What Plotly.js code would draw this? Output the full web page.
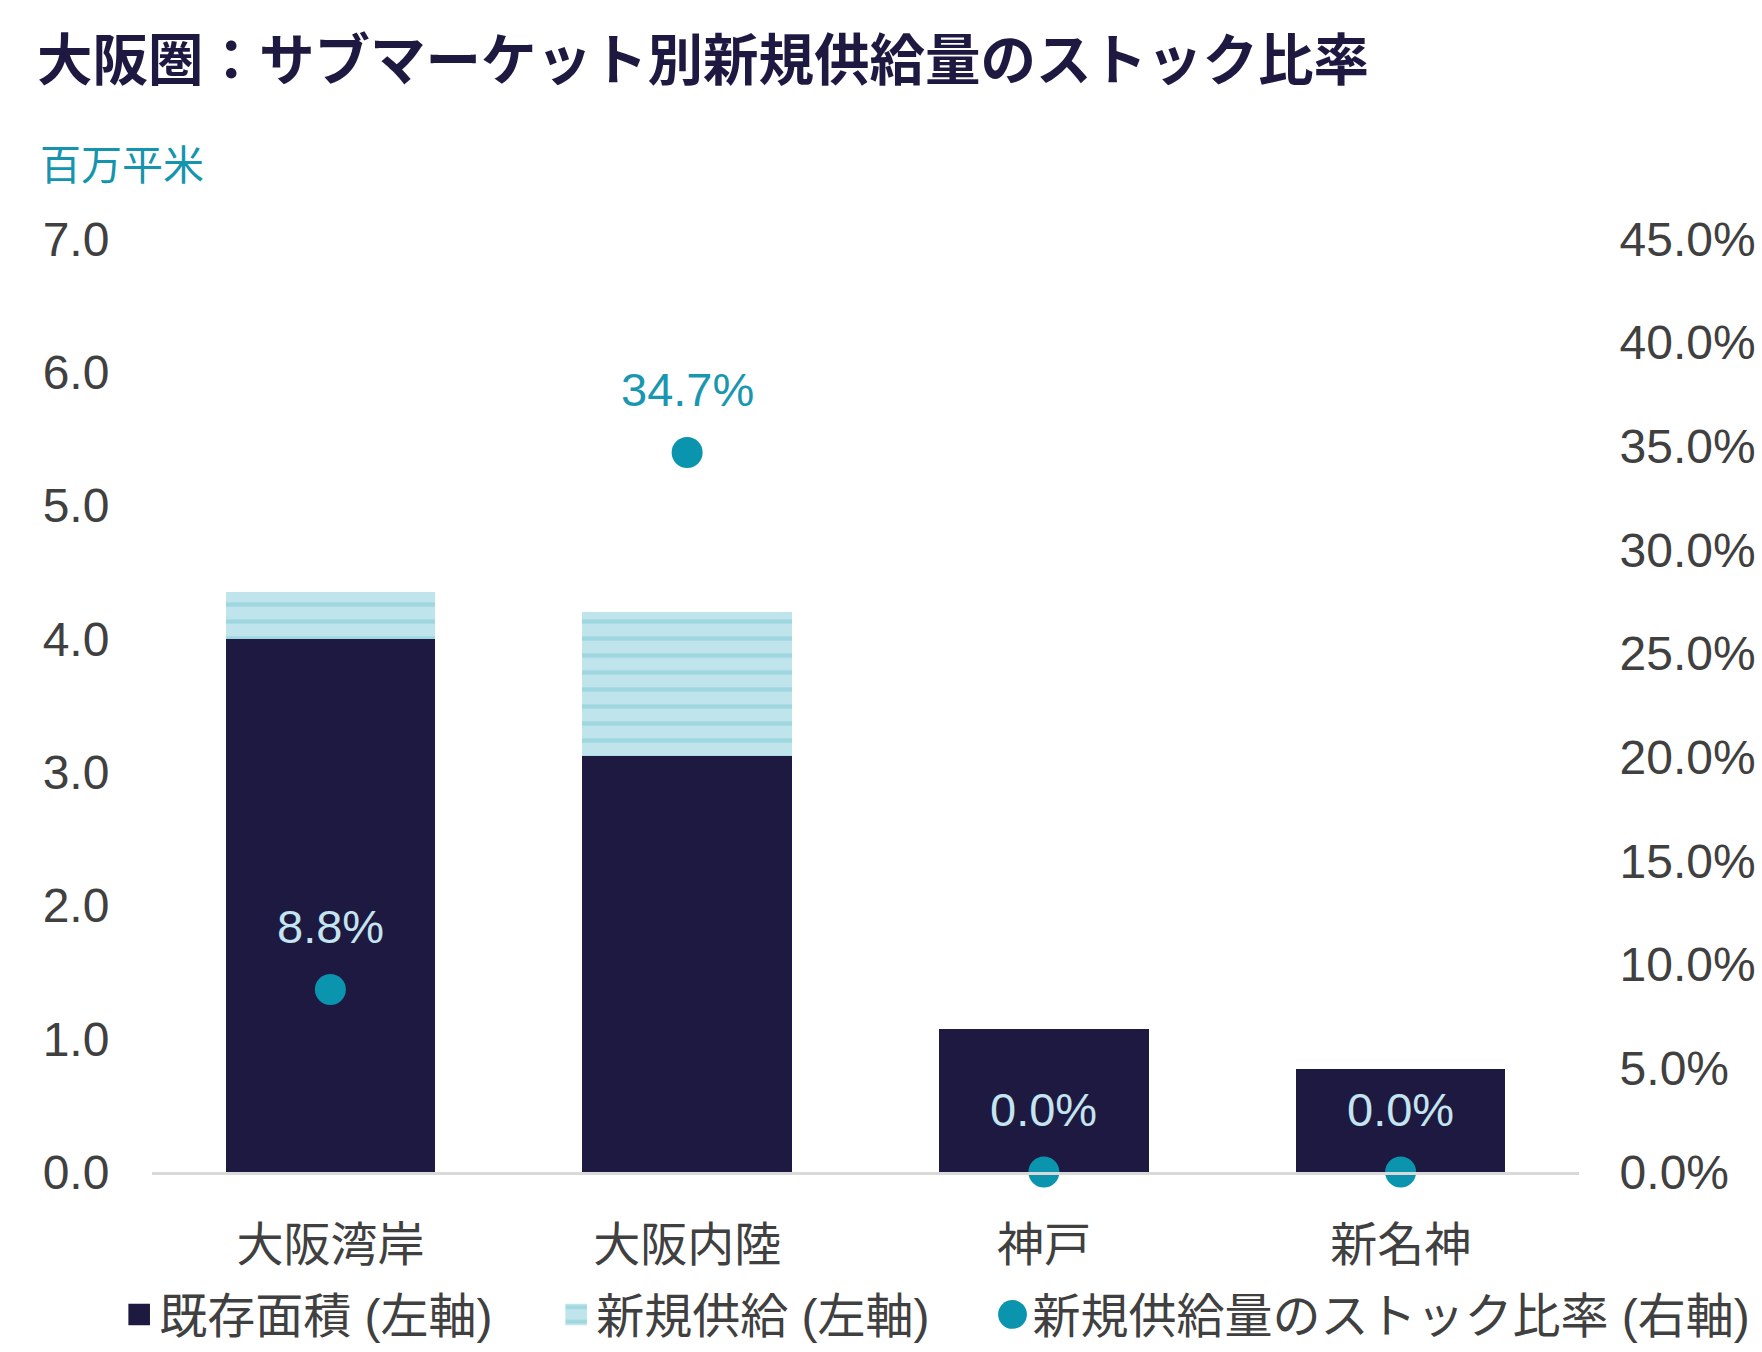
<!DOCTYPE html>
<html>
<head>
<meta charset="utf-8">
<script src="https://cdn.plot.ly/plotly-3.0.1.min.js"></script>
<style>
  body { margin: 0; background: #fff; }
  #myDiv { width: 1762px; height: 1352px; }
</style>
</head>
<body>
<div id="myDiv"></div>
<script>
// values
let CATEGORIES = ["大阪湾岸", "大阪内陸", "神戸", "新名神"];
let EXISTING = [4.0, 3.12, 1.07, 0.77];      // 既存面積 (百万平米)
let NEW_SUPPLY = [0.35, 1.08, 0.0, 0.0];     // 新規供給 (百万平米)
let RATIO = [0.088, 0.347, 0.0, 0.0];        // 新規供給量のストック比率

let NAVY = "#1e1940";
let TEAL = "#0a94ad";
let FONT = "Liberation Sans, Noto Sans CJK JP, sans-serif";

let traceExisting = {
    x: CATEGORIES,
    y: EXISTING,
    type: 'bar',
    name: '既存面積 (左軸)',
    marker: { color: NAVY },
    hoverinfo: 'skip'
};

let traceNew = {
    x: CATEGORIES,
    y: NEW_SUPPLY,
    type: 'bar',
    name: '新規供給 (左軸)',
    marker: {
        color: '#bfe4eb',
        pattern: { shape: '-', fgcolor: '#80c9d6', size: 17, solidity: 0.25, fillmode: 'overlay' }
    },
    hoverinfo: 'skip'
};

// the long entry gets its own legend so the fixed entry width doesn't clip it
let traceRatio = {
    x: CATEGORIES,
    y: RATIO,
    yaxis: 'y2',
    type: 'scatter',
    mode: 'markers',
    name: '新規供給量のストック比率 (右軸)',
    legend: 'legend2',
    marker: { color: TEAL, size: 31 },
    cliponaxis: false,
    hoverinfo: 'skip'
};

// ratio labels above the dots; light text where it sits on a dark bar
let ratioLabels = RATIO.map((r, i) => {
    let leftUnits = r / 0.45 * 7 + 0.47;
    return {
        x: CATEGORIES[i],
        y: r,
        xref: 'x',
        yref: 'y2',
        text: (r * 100).toFixed(1) + '%',
        showarrow: false,
        yshift: 63,
        font: { family: FONT, size: 47, color: leftUnits < EXISTING[i] ? '#c4e4ef' : '#1a97b0' }
    };
});

let legendBase = {
    orientation: 'h',
    xanchor: 'left',
    y: -0.153,
    yanchor: 'middle',
    font: { size: 48, color: '#404040' },
    itemwidth: 30,
    traceorder: 'normal'
};

let layout = {
    width: 1762,
    height: 1352,
    margin: { l: 152, r: 183, t: 239, b: 180, autoexpand: false },
    paper_bgcolor: '#ffffff',
    plot_bgcolor: '#ffffff',
    barmode: 'stack',
    bargap: 0.413,
    font: { family: FONT, size: 47, color: '#404040' },
    title: {
        text: '大阪圏：サブマーケット別新規供給量のストック比率',
        font: { family: 'Noto Sans CJK JP, sans-serif', size: 55.5, color: NAVY, weight: 'bold' },
        x: 0.021, xref: 'container', xanchor: 'left',
        y: 0.955, yref: 'container', yanchor: 'middle'
    },
    xaxis: {
        range: [-0.5, 3.5],
        showline: true,
        linecolor: '#d9d9d9',
        linewidth: 3,
        ticks: 'outside',
        ticklen: 30,
        tickcolor: 'rgba(0,0,0,0)',
        showgrid: false,
        zeroline: false,
        tickfont: { size: 47, color: '#404040' }
    },
    yaxis: {
        range: [0, 7],
        dtick: 1,
        tickformat: '.1f',
        showgrid: false,
        zeroline: false,
        showline: false,
        ticks: 'outside',
        ticklen: 32,
        tickcolor: 'rgba(0,0,0,0)',
        tickfont: { size: 48, color: '#404040' }
    },
    yaxis2: {
        range: [0, 0.45],
        dtick: 0.05,
        tickformat: '.1%',
        overlaying: 'y',
        side: 'right',
        showgrid: false,
        zeroline: false,
        showline: false,
        ticks: 'outside',
        ticklen: 30,
        tickcolor: 'rgba(0,0,0,0)',
        tickfont: { size: 48, color: '#404040' }
    },
    showlegend: true,
    legend: Object.assign({}, legendBase, { x: -0.023, entrywidth: 392 }),
    legend2: Object.assign({}, legendBase, { x: 0.589 }),
    annotations: [
        {
            text: '百万平米',
            xref: 'paper', yref: 'paper',
            x: -0.08, xanchor: 'left',
            y: 1.078, yanchor: 'middle',
            showarrow: false,
            font: { family: FONT, size: 41, color: '#1595ad' }
        }
    ].concat(ratioLabels)
};

Plotly.newPlot('myDiv', [traceExisting, traceNew, traceRatio], layout, { displayModeBar: false, staticPlot: true })
    .then(function () {
        // legend swatches are bigger in the reference
        document.querySelectorAll('.legendpoints path').forEach(p => {
            let t = p.getAttribute('transform') || '';
            p.setAttribute('transform', t + ' scale(1.8)');
        });
    });
</script>
</body>
</html>
